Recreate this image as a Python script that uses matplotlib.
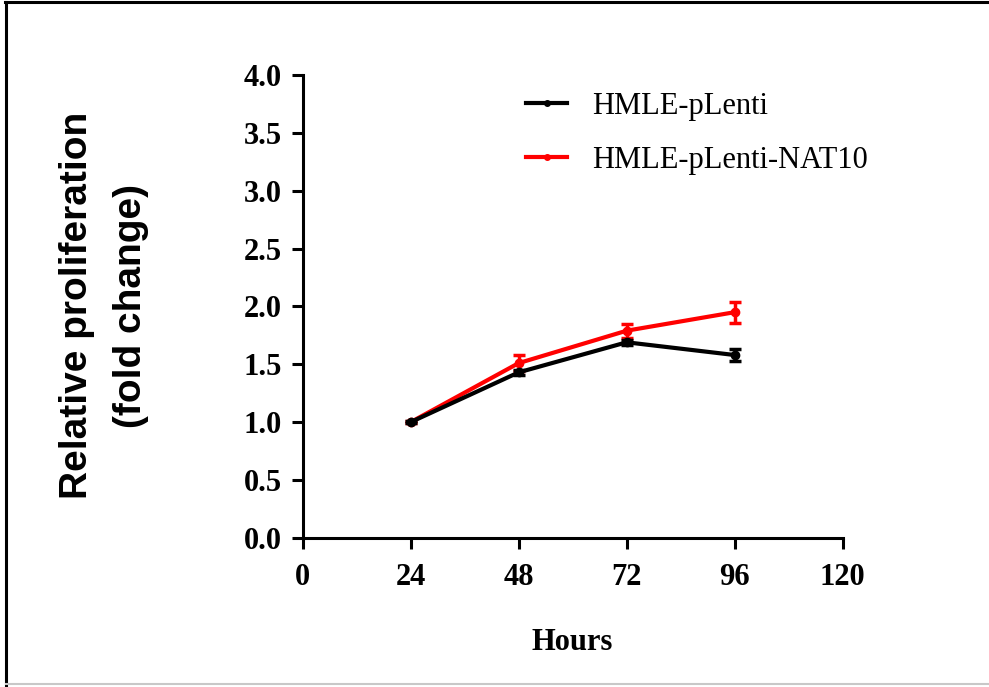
import numpy as np
import matplotlib
matplotlib.use("Agg")
import matplotlib.pyplot as plt
from matplotlib.lines import Line2D

hours = [24, 48, 72, 96]
plenti = [1.00, 1.43, 1.69, 1.58]
plenti_err = [0.01, 0.02, 0.02, 0.05]
nat10 = [1.00, 1.51, 1.79, 1.95]
nat10_err = [0.01, 0.07, 0.06, 0.09]

xticks = [0, 24, 48, 72, 96, 120]
yticks = [0.0, 0.5, 1.0, 1.5, 2.0, 2.5, 3.0, 3.5, 4.0]

serif = "Liberation Serif"
sans = "Liberation Sans"

fig = plt.figure(figsize=(9.89, 6.87), dpi=100)
ax = fig.add_axes([0.306, 0.217, 0.546, 0.674])

# red series underneath, black on top
ax.errorbar(hours, nat10, yerr=nat10_err, color="#ff0000", lw=3, marker="o", ms=6,
            capsize=4, capthick=2.5, elinewidth=2.5, zorder=3)
ax.errorbar(hours, plenti, yerr=plenti_err, color="black", lw=3, marker="o", ms=6,
            capsize=4, capthick=2.5, elinewidth=2.5, zorder=4)

ax.set_xlim(0, 120)
ax.set_ylim(0, 4.0)
ax.set_xticks(xticks)
ax.set_xticklabels([str(t) for t in xticks])
ax.set_yticks(yticks)
ax.set_yticklabels(["%.1f" % t for t in yticks])

for s in ["top", "right"]:
    ax.spines[s].set_visible(False)
for s in ["left", "bottom"]:
    ax.spines[s].set_linewidth(2.2)

ax.tick_params(axis="both", direction="out", length=8, width=2.2)
ax.tick_params(axis="x", pad=10)
ax.tick_params(axis="y", pad=7)
for lab in ax.get_xticklabels() + ax.get_yticklabels():
    lab.set_fontfamily(serif)
    lab.set_fontweight("bold")
    lab.set_fontsize(22)

ax.set_xlabel("Hours", fontfamily=serif, fontweight="bold", fontsize=22, labelpad=26)
fig.text(0.078, 0.555, "Relative proliferation", rotation=90, ha="center", va="center",
         fontfamily=sans, fontweight="bold", fontsize=28)
fig.text(0.132, 0.555, "(fold change)", rotation=90, ha="center", va="center",
         fontfamily=sans, fontweight="bold", fontsize=28)

# legend: plain line with a small dot
handles = [Line2D([], [], color="black", lw=3, marker="o", ms=4),
           Line2D([], [], color="#ff0000", lw=3, marker="o", ms=4)]
labels = ["HMLE-pLenti", "HMLE-pLenti-NAT10"]
ax.legend(handles, labels, loc="upper left",
          bbox_to_anchor=(0.532, 0.866), bbox_transform=fig.transFigure,
          frameon=False, borderpad=0, borderaxespad=0, handlelength=1.35,
          handletextpad=0.8, labelspacing=0.8,
          prop={"family": serif, "size": 22})

# outer frame
fig.add_artist(Line2D([0.005, 1.0], [0.997, 0.997], color="black", lw=2.2, transform=fig.transFigure))
fig.add_artist(Line2D([0.006, 0.006], [0.0, 0.997], color="black", lw=2.2, transform=fig.transFigure))
fig.add_artist(Line2D([0.006, 1.0], [0.004, 0.004], color="#c8c8c8", lw=1.5, transform=fig.transFigure))

fig.savefig("out.png", dpi=100)
